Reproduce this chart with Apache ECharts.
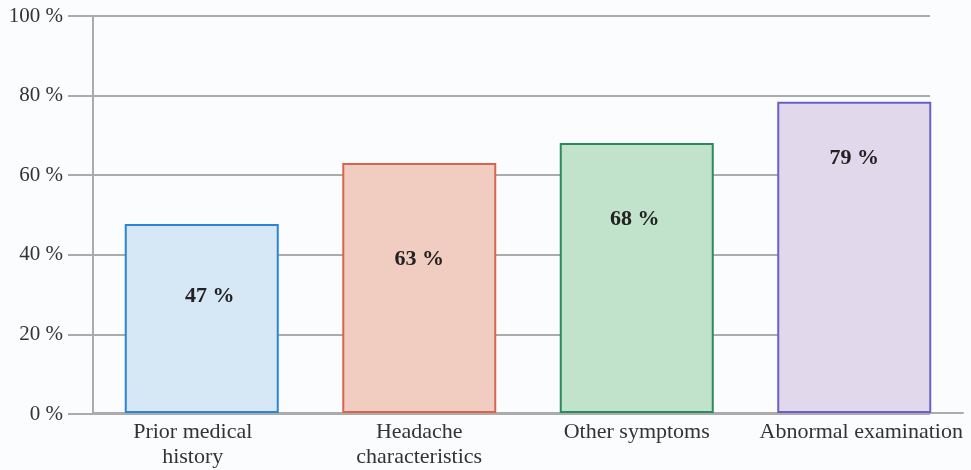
<!DOCTYPE html>
<html>
<head>
<meta charset="utf-8">
<script src="https://cdn.jsdelivr.net/npm/echarts@6/dist/echarts.min.js"></script>
<style>
  html, body { margin: 0; padding: 0; background: #fbfcfe; }
  #chart { width: 971px; height: 470px; }
</style>
</head>
<body>
<div id="chart"></div>
<script>
// data
var categories = ['Prior medical\nhistory', 'Headache\ncharacteristics', 'Other symptoms', 'Abnormal examination'];
var values = [47.6, 63, 68, 78.4];
var labelTexts = ['47 %', '63 %', '68 %', '79 %'];
var yTicks = [0, 20, 40, 60, 80, 100];

// styles
var fills = ['#d6e7f6', '#f0cdc0', '#c2e3cb', '#e2d8ec'];
var borders = ['#2b85d6', '#d9654f', '#2a8a5a', '#6b5fc7'];
var labelDist = [61, 85, 65, 46];
var labelShift = [[8, 0], [0, 0], [-2, 0], [0, 0]];

var font = '"Liberation Serif", "DejaVu Serif", serif';
var grey = '#ababab';

var barData = values.map(function (v, i) {
    return {
        value: v,
        itemStyle: { color: fills[i], borderColor: borders[i], borderWidth: 2 },
        label: { distance: labelDist[i], offset: labelShift[i], formatter: labelTexts[i] }
    };
});

var option = {
    backgroundColor: '#fbfcfe',
    animation: false,
    grid: [
        { left: 68, right: 41, top: 16, bottom: 56 },   // gridlines + y labels
        { left: 93, right: 8, top: 16, bottom: 56 }     // bars
    ],
    xAxis: [
        { gridIndex: 0, type: 'value', show: false, min: 0, max: 1 },
        {
            gridIndex: 1,
            type: 'category',
            data: categories,
            axisLine: { lineStyle: { color: grey, width: 2 } },
            axisTick: { show: false },
            axisLabel: {
                color: '#333', fontFamily: font, fontSize: 22, lineHeight: 25,
                margin: 7, interval: 0,
                formatter: function (v, i) {
                    return i === 3 ? '{r|' + v + '}' : i === 0 ? '{l|' + v + '}' : v;
                },
                rich: {
                    r: { fontFamily: font, fontSize: 22, color: '#333', padding: [0, 0, 0, 14] },
                    l: { fontFamily: font, fontSize: 22, color: '#333', lineHeight: 25, padding: [0, 18, 0, 0] }
                }
            }
        }
    ],
    yAxis: [
        {
            gridIndex: 0,
            type: 'value',
            min: yTicks[0], max: yTicks[yTicks.length - 1], interval: 20,
            axisLine: { show: false },
            axisTick: { show: false },
            axisLabel: {
                color: '#333', fontFamily: font, fontSize: 21, margin: 5,
                formatter: '{value} %'
            },
            splitLine: { lineStyle: { color: grey, width: 2 } }
        },
        {
            gridIndex: 1,
            type: 'value',
            min: yTicks[0], max: yTicks[yTicks.length - 1], interval: 20,
            axisLine: { show: true, lineStyle: { color: grey, width: 2 } },
            axisTick: { show: false },
            axisLabel: { show: false },
            splitLine: { show: false }
        }
    ],
    series: [{
        type: 'bar',
        xAxisIndex: 1,
        yAxisIndex: 1,
        barWidth: 154,
        data: barData,
        label: {
            show: true,
            position: 'insideTop',
            color: '#222',
            fontFamily: font,
            fontSize: 22,
            fontWeight: 'bold'
        }
    }]
};

var myChart = echarts.init(document.getElementById('chart'));
myChart.setOption(option);
</script>
</body>
</html>
